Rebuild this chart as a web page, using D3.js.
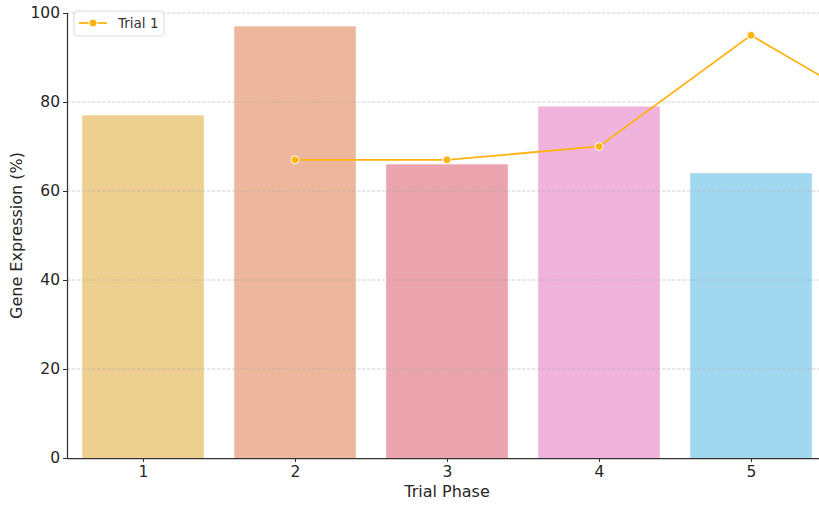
<!DOCTYPE html>
<html><head><meta charset="utf-8">
<script src="https://cdn.jsdelivr.net/npm/d3@7"></script>
<style>
body{margin:0;background:#fff;}
svg{display:block;font-family:"DejaVu Sans",sans-serif;}
</style></head>
<body>
<svg id="chart" width="819" height="506"></svg>
<script>
const categories = [1, 2, 3, 4, 5];
const barValues = [77, 97, 66, 79, 64];
const barColors = ["#EDD08F", "#EDB79D", "#EBA3AD", "#F0B3DC", "#A1D8EF"];
const linePhases = [2, 3, 4, 5, 6];
const lineValues = [67, 67, 70, 95, 75];
const lineName = "Trial 1";
const yTicks = [0, 20, 40, 60, 80, 100];

(function () {
const svg = d3.select("#chart");
const plotTop = 13, plotBottom = 458;
const x = d3.scaleLinear().domain([0.5, 5.5]).range([67, 827]);
const y = d3.scaleLinear().domain([0, 100]).range([plotBottom, plotTop]);
const bw = x(1.4) - x(0.6);

svg.append("defs").append("clipPath").attr("id", "clip")
  .append("rect").attr("x", x(0.5)).attr("y", 0).attr("width", x(5.5) - x(0.5)).attr("height", plotBottom);

// bars
svg.append("g").selectAll("rect").data(categories).join("rect")
  .attr("x", (d) => x(d) - bw / 2)
  .attr("y", (d, i) => y(barValues[i]))
  .attr("width", bw)
  .attr("height", (d, i) => y(0) - y(barValues[i]))
  .attr("fill", (d, i) => barColors[i]);

// grid
svg.append("g").selectAll("line").data(yTicks.filter(t => t > 0)).join("line")
  .attr("x1", x(0.5)).attr("x2", x(5.5))
  .attr("y1", d => y(d)).attr("y2", d => y(d))
  .attr("stroke", "#b0b0b0").attr("stroke-opacity", 0.7)
  .attr("stroke-dasharray", "3.5,1.5").attr("stroke-width", 0.8);

// axes
const yAxis = svg.append("g").attr("transform", `translate(${x(0.5)},0)`)
  .call(d3.axisLeft(y).tickValues(yTicks).tickSize(4).tickPadding(3));
const xAxis = svg.append("g").attr("transform", `translate(0,${plotBottom})`)
  .call(d3.axisBottom(x).tickValues(categories).tickFormat(d3.format("d")).tickSize(4).tickPadding(4));
[yAxis, xAxis].forEach(g => {
  g.attr("font-size", null).attr("font-family", null);
  g.selectAll(".domain").attr("stroke", "#333").attr("stroke-width", 1.25);
  g.selectAll(".tick line").attr("stroke", "#333").attr("stroke-width", 1);
  g.selectAll(".tick text").attr("fill", "#262626").attr("font-size", 15.5)
    .style("font-size", "15.5px").style("font-family", '"DejaVu Sans",sans-serif');
});
xAxis.select(".domain").attr("d", `M${x(0.5)},0.5H${x(5.5)}`);
yAxis.select(".domain").attr("d", `M0.5,${plotBottom}V${plotTop}`);

// line
const lineG = svg.append("g").attr("clip-path", "url(#clip)");
const pts = linePhases.map((p, i) => [p, lineValues[i]]);
lineG.append("path").datum(pts)
  .attr("d", d3.line().x(d => x(d[0])).y(d => y(d[1])))
  .attr("fill", "none").attr("stroke", "#FFB310").attr("stroke-width", 1.8);
lineG.selectAll("circle").data(pts).join("circle")
  .attr("cx", d => x(d[0])).attr("cy", d => y(d[1])).attr("r", 4)
  .attr("fill", "#FFB310").attr("stroke", "#fff").attr("stroke-width", 1);

// labels
svg.append("text").attr("x", x(3)).attr("y", 497).attr("text-anchor", "middle")
  .attr("fill", "#262626").style("font-size", "16px").text("Trial Phase");
svg.append("text").attr("transform", `translate(22,${(plotTop + plotBottom) / 2}) rotate(-90)`)
  .attr("text-anchor", "middle").attr("fill", "#262626").style("font-size", "16px")
  .text("Gene Expression (%)");

// legend
const lg = svg.append("g");
lg.append("rect").attr("x", 74).attr("y", 11).attr("width", 90).attr("height", 25).attr("rx", 3)
  .attr("fill", "#fff").attr("fill-opacity", 0.8).attr("stroke", "#ddd");
lg.append("line").attr("x1", 79).attr("x2", 107).attr("y1", 23).attr("y2", 23)
  .attr("stroke", "#FFB310").attr("stroke-width", 1.8);
lg.append("circle").attr("cx", 93).attr("cy", 23).attr("r", 4).attr("fill", "#FFB310")
  .attr("stroke", "#fff").attr("stroke-width", 1);
lg.append("text").attr("x", 118).attr("y", 28).attr("fill", "#333").style("font-size", "13.5px").text(lineName);
})();
</script>
</body></html>
